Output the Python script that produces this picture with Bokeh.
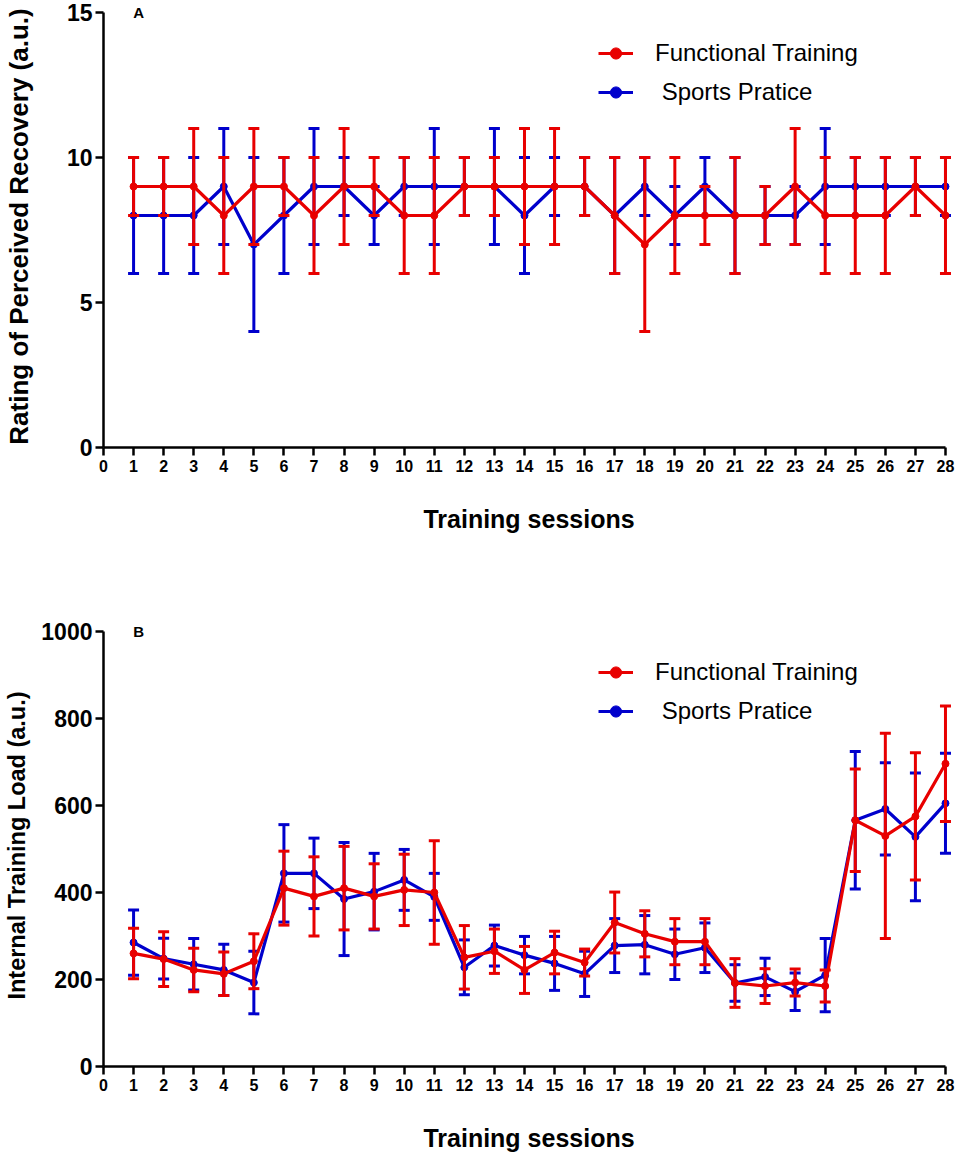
import numpy as np
from bokeh.plotting import figure
from bokeh.layouts import column
from bokeh.models import ColumnDataSource, FixedTicker, Label, Legend, LegendItem, Range1d
from bokeh.embed import file_html
from bokeh.resources import INLINE

# ---------------- data ----------------
sessions = list(range(1, 29))
x_ticks = list(range(0, 29))

# Panel A: Rating of Perceived Recovery (mean, SD)
rpr_ft_mean = [9, 9, 9, 8, 9, 9, 8, 9, 9, 8, 8, 9, 9, 9, 9, 9, 8, 7, 8, 8, 8, 8, 9, 8, 8, 8, 9, 8]
rpr_ft_sd = [1, 1, 2, 2, 2, 1, 2, 2, 1, 2, 2, 1, 1, 2, 2, 1, 2, 3, 2, 1, 2, 1, 2, 2, 2, 2, 1, 2]
rpr_sp_mean = [8, 8, 8, 9, 7, 8, 9, 9, 8, 9, 9, 9, 9, 8, 9, 9, 8, 9, 8, 9, 8, 8, 8, 9, 9, 9, 9, 9]
rpr_sp_sd = [2, 2, 2, 2, 3, 2, 2, 1, 1, 1, 2, 1, 2, 2, 1, 1, 2, 1, 1, 1, 2, 1, 1, 2, 1, 1, 1, 1]
rpr_ticks = [0, 5, 10, 15]

# Panel B: Internal Training Load (mean, SD)
itl_ft_mean = [260, 247, 222, 213, 242, 410, 391, 410, 391, 406, 400, 251, 265, 222, 262, 239,
               331, 305, 287, 287, 192, 185, 193, 185, 566, 530, 575, 696]
itl_ft_sd = [58, 63, 50, 50, 63, 85, 91, 96, 75, 82, 119, 73, 51, 54, 49, 31,
             70, 53, 53, 53, 56, 40, 31, 37, 118, 236, 146, 133]
itl_sp_mean = [285, 248, 235, 222, 193, 444, 444, 385, 402, 429, 390, 228, 278, 256, 237, 213,
               278, 280, 258, 273, 192, 206, 172, 210, 566, 592, 528, 605]
itl_sp_sd = [75, 47, 59, 59, 72, 112, 81, 130, 88, 70, 54, 63, 47, 43, 62, 52,
             62, 67, 58, 57, 42, 43, 43, 84, 158, 106, 147, 115]
itl_ticks = [0, 200, 400, 600, 800, 1000]

labels = ["Functional Training", "Sports Pratice"]
RED = "#E80000"
BLUE = "#0000CC"
FONT = "Liberation Sans"


def make_panel(letter, ft_mean, ft_sd, sp_mean, sp_sd, ymax, yticks, ylabel, ylabel_size,
               height, border_top, border_bottom, ylabel_standoff):
    ytop = ymax * (1 + 7.0 / 435.0)
    p = figure(width=960, height=height, output_backend="svg", toolbar_location=None,
               x_range=Range1d(0, 28.3), y_range=Range1d(0, ytop),
               min_border_left=99, min_border_right=6,
               min_border_top=border_top, min_border_bottom=border_bottom)
    p.outline_line_color = None
    p.xgrid.visible = False
    p.ygrid.visible = False

    renderers = {}
    for name, mean, sd, color in [(labels[1], sp_mean, sp_sd, BLUE),
                                  (labels[0], ft_mean, ft_sd, RED)]:
        m = np.array(mean, dtype=float)
        s = np.array(sd, dtype=float)
        src = ColumnDataSource(dict(x=sessions, m=m, lo=m - s, hi=m + s))
        p.segment(x0="x", y0="lo", x1="x", y1="hi", source=src, line_color=color, line_width=3)
        p.scatter(x="x", y="hi", source=src, marker="dash", size=11, line_color=color, line_width=3)
        p.scatter(x="x", y="lo", source=src, marker="dash", size=11, line_color=color, line_width=3)
        ln = p.line(x="x", y="m", source=src, line_color=color, line_width=3.2)
        mk = p.scatter(x="x", y="m", source=src, marker="circle", size=7,
                       fill_color=color, line_color=color)
        renderers[name] = [ln, mk]

    frame_h = height - border_top - border_bottom
    legend = Legend(items=[LegendItem(label=labels[0], renderers=renderers[labels[0]]),
                           LegendItem(label=" " + labels[1], renderers=renderers[labels[1]])],
                    location=(495, frame_h - 7 - 435 + 341))
    legend.background_fill_alpha = 0
    legend.border_line_color = None
    legend.padding = 0
    legend.margin = 0
    legend.glyph_width = 35
    legend.glyph_height = 28
    legend.label_height = 28
    legend.spacing = 11
    legend.label_standoff = 22
    legend.label_text_font = FONT
    legend.label_text_font_size = "24px"
    legend.label_text_color = "black"
    p.add_layout(legend)

    for ax in (p.xaxis[0], p.yaxis[0]):
        ax.axis_line_width = 2.5
        ax.axis_line_color = "black"
        ax.major_tick_line_width = 2.5
        ax.major_tick_line_color = "black"
        ax.major_tick_out = 8
        ax.major_tick_in = 0
        ax.minor_tick_line_color = None
        ax.major_label_text_font = FONT
        ax.major_label_text_font_style = "bold"
        ax.major_label_text_color = "black"
        ax.axis_label_text_font = FONT
        ax.axis_label_text_font_style = "bold"
        ax.axis_label_text_color = "black"

    xa = p.xaxis[0]
    xa.ticker = FixedTicker(ticks=x_ticks)
    xa.bounds = (0, 28)
    xa.major_label_text_font_size = "16px"
    xa.major_label_standoff = 4
    xa.axis_label = "Training sessions"
    xa.axis_label_text_font_size = "25px"
    xa.axis_label_standoff = 30

    ya = p.yaxis[0]
    ya.ticker = FixedTicker(ticks=yticks)
    ya.bounds = (0, ymax)
    ya.major_label_text_font_size = "23px"
    ya.major_label_standoff = 3
    ya.axis_label = ylabel
    ya.axis_label_text_font_size = ylabel_size
    ya.axis_label_standoff = ylabel_standoff

    p.add_layout(Label(x=1.17, y=ymax, text=letter, text_font=FONT, text_font_style="bold",
                       text_font_size="15px", text_align="center", text_baseline="middle",
                       text_color="black"))
    return p


pa = make_panel("A", rpr_ft_mean, rpr_ft_sd, rpr_sp_mean, rpr_sp_sd, 15, rpr_ticks,
                "Rating of Perceived Recovery (a.u.)", "26px", 601, 5, 154, 30)
pb = make_panel("B", itl_ft_mean, itl_ft_sd, itl_sp_mean, itl_sp_sd, 1000, itl_ticks,
                "Internal Training Load (a.u.)", "23.5px", 557, 23, 92, 8)

layout = column(pa, pb, spacing=0)
open("out.html", "w").write(file_html(layout, INLINE))
